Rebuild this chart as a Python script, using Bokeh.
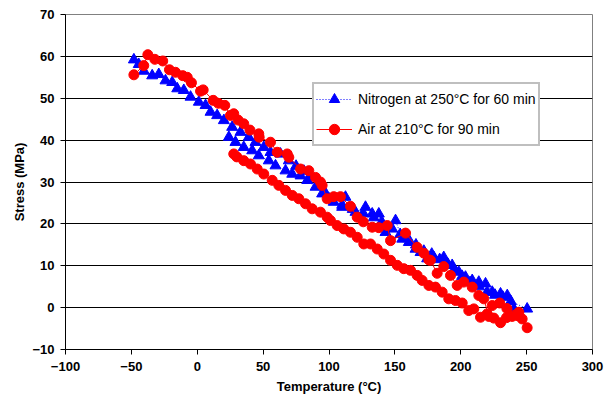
from bokeh.plotting import figure
from bokeh.models import Range1d, FixedTicker, Legend, LegendItem
from bokeh.embed import file_html
from bokeh.resources import INLINE

# Nitrogen at 250°C for 60 min (heating branch then return branch)
n2_temp = [-48.1, -44.4, -40.5, -34.2, -29.2, -24.1, -19.0, -15.2, -10.2, -5.1,
           1.2, 6.3, 10.1, 15.1, 20.2, 26.5, 32.8, 39.1, 44.2, 50.5,
           55.6, 63.2, 69.5, 75.0, 81.0, 86.0, 92.0, 97.0, 103.6, 110.0,
           112.5, 120.1, 127.7, 132.8, 137.8, 142.9, 150.5, 155.6, 160.6, 165.7,
           169.5, 174.5, 179.6, 187.1, 193.5, 198.5, 203.6, 208.7, 213.7, 218.8,
           223.9, 230.2, 235.3, 240.3, 250.4,
           238.0, 232.0, 226.0, 220.0, 214.0, 207.0, 201.0, 195.0, 190.0, 184.0,
           178.0, 172.0, 166.0, 160.0, 154.0, 148.0, 140.0, 134.0, 126.0, 118.0,
           110.0, 100.0, 94.8, 89.8, 83.5, 78.4, 72.1, 67.0, 59.4, 54.3,
           46.7, 41.7, 35.3, 29.0, 24.0]
n2_stress = [59.2, 58.1, 56.5, 55.4, 55.7, 54.2, 53.8, 52.3, 51.9, 50.3,
             49.1, 48.3, 46.7, 45.9, 44.7, 43.1, 41.9, 40.7, 39.5, 38.3,
             37.1, 36.7, 35.1, 33.8, 32.6, 31.2, 29.6, 27.5, 25.2, 24.0,
             26.4, 22.8, 24.0, 22.4, 22.4, 18.0, 20.8, 16.4, 15.6, 14.0,
             13.2, 11.7, 12.0, 12.0, 10.1, 8.5, 7.3, 6.5, 6.1, 5.7,
             3.7, 3.3, 2.9, -0.3, -0.3,
             1.5, 2.5, 3.0, 3.7, 5.0, 6.0, 7.5, 9.0, 10.5, 11.5,
             12.8, 13.5, 15.0, 16.5, 17.5, 18.8, 20.5, 21.5, 22.5, 23.5,
             24.5, 26.0, 27.2, 28.8, 30.4, 31.5, 31.9, 32.7, 33.9, 35.1,
             36.3, 37.5, 38.3, 39.5, 40.7]

# Air at 210°C for 90 min (heating branch then return branch)
air_temp = [-48.1, -40.6, -37.5, -32.2, -26.2, -21.1, -16.5, -11.0, -7.6, -4.4,
            2.5, 4.5, 12.1, 16.0, 20.9, 25.2, 27.7, 31.0, 35.3, 40.0,
            46.7, 47.0, 55.6, 60.7, 68.3, 69.5, 78.4, 84.7, 89.8, 93.5,
            94.8, 98.6, 103.6, 108.7, 116.3, 121.4, 126.0, 132.8, 137.8, 144.2,
            146.7, 158.1, 166.9, 172.0, 175.8, 177.0, 182.1, 187.1, 192.2, 197.3,
            202.3, 208.7, 213.7, 217.5, 221.3, 223.9, 229.6, 235.0, 244.1, 246.6,
            250.4,
            242.8, 239.0, 234.7, 230.2, 225.1, 220.0, 215.0, 209.9, 206.1, 201.1,
            196.0, 190.9, 185.9, 180.8, 175.8, 170.7, 166.9, 161.9, 156.8, 151.8,
            146.7, 141.6, 136.6, 131.5, 126.4, 121.4, 116.3, 111.2, 106.2, 101.1,
            98.6, 93.5, 87.2, 82.2, 77.1, 72.1, 67.0, 61.9, 56.9, 50.5,
            45.5, 40.4, 35.3, 30.0, 27.7]
air_stress = [55.6, 57.8, 60.4, 59.3, 58.9, 56.8, 56.2, 55.4, 55.0, 53.7,
              51.7, 52.0, 49.5, 48.8, 48.3, 45.9, 46.3, 44.8, 43.9, 42.4,
              41.5, 40.7, 39.5, 37.1, 36.7, 35.9, 33.1, 32.7, 31.1, 30.0,
              29.2, 26.0, 26.5, 26.5, 24.2, 21.6, 20.5, 19.2, 19.1, 19.6,
              16.0, 17.8, 14.4, 13.0, 11.4, 11.3, 8.2, 9.8, 7.7, 5.3,
              6.1, 4.9, 2.9, 2.1, -2.1, 0.5, 1.1, -0.2, -1.1, -2.7,
              -4.8,
              -1.9, -2.1, -2.4, -3.6, -2.5, -1.5, -2.3, -0.3, -0.7, 1.1,
              1.7, 2.1, 3.7, 4.9, 5.3, 6.5, 7.7, 8.9, 9.3, 10.1,
              11.3, 12.8, 14.0, 15.2, 15.2, 16.8, 18.0, 18.8, 19.6, 20.8,
              21.6, 22.8, 23.6, 24.8, 26.0, 26.8, 28.0, 29.2, 30.4, 31.9,
              33.1, 34.3, 35.1, 36.0, 36.7]

x_ticks = [-100, -50, 0, 50, 100, 150, 200, 250, 300]
y_ticks = [-10, 0, 10, 20, 30, 40, 50, 60, 70]

FONT = "Liberation Sans"

p = figure(width=611, height=404, output_backend="svg", toolbar_location=None,
           x_range=Range1d(-100, 300), y_range=Range1d(-10, 70),
           min_border_left=65, min_border_right=19, min_border_top=14,
           min_border_bottom=55)
p.background_fill_color = "white"
p.border_fill_color = "white"
p.outline_line_color = "#808080"
p.outline_line_width = 1

p.xgrid.visible = False
p.ygrid.grid_line_color = "black"
p.ygrid.grid_line_alpha = 1
p.ygrid.grid_line_width = 1

p.xaxis.ticker = FixedTicker(ticks=x_ticks)
p.yaxis.ticker = FixedTicker(ticks=y_ticks)
for ax in (p.xaxis[0], p.yaxis[0]):
    ax.axis_line_color = "black"
    ax.major_tick_line_color = "black"
    ax.major_tick_out = 5
    ax.major_tick_in = 0
    ax.minor_tick_line_color = None
    ax.major_label_text_font = FONT
    ax.major_label_text_font_style = "bold"
    ax.major_label_text_font_size = "13px"
    ax.major_label_text_color = "black"
    ax.axis_label_text_font = FONT
    ax.axis_label_text_font_style = "bold"
    ax.axis_label_text_font_size = "13px"
    ax.axis_label_text_color = "black"

p.xaxis.axis_label = "Temperature (°C)"
p.yaxis.axis_label = "Stress (MPa)"
p.xaxis.major_label_standoff = 7
p.xaxis.axis_label_standoff = 5
p.yaxis.major_label_standoff = 6
p.yaxis.axis_label_standoff = 2

bl = p.line(n2_temp, n2_stress, line_color="blue", line_width=1, line_dash="1 2")
bs = p.scatter(n2_temp, n2_stress, marker="triangle", size=11,
               fill_color="blue", line_color="blue")
rl = p.line(air_temp, air_stress, line_color="red", line_width=1)
rs = p.scatter(air_temp, air_stress, marker="circle", size=10,
               fill_color="red", line_color="red")

legend = Legend(items=[
    LegendItem(label="Nitrogen at 250°C for 60 min", renderers=[bl, bs]),
    LegendItem(label="Air at 210°C for 90 min", renderers=[rl, rs]),
], location=(247, 203))
legend.label_text_font = FONT
legend.label_text_font_size = "14px"
legend.label_text_color = "black"
legend.glyph_width = 36
legend.glyph_height = 26
legend.label_height = 26
legend.label_standoff = 6
legend.padding = 2
legend.spacing = 4
legend.margin = 0
legend.border_line_color = "#808080"
legend.border_line_width = 2
legend.background_fill_color = "white"
legend.background_fill_alpha = 1
p.add_layout(legend)

open("out.html", "w").write(file_html(p, INLINE))
